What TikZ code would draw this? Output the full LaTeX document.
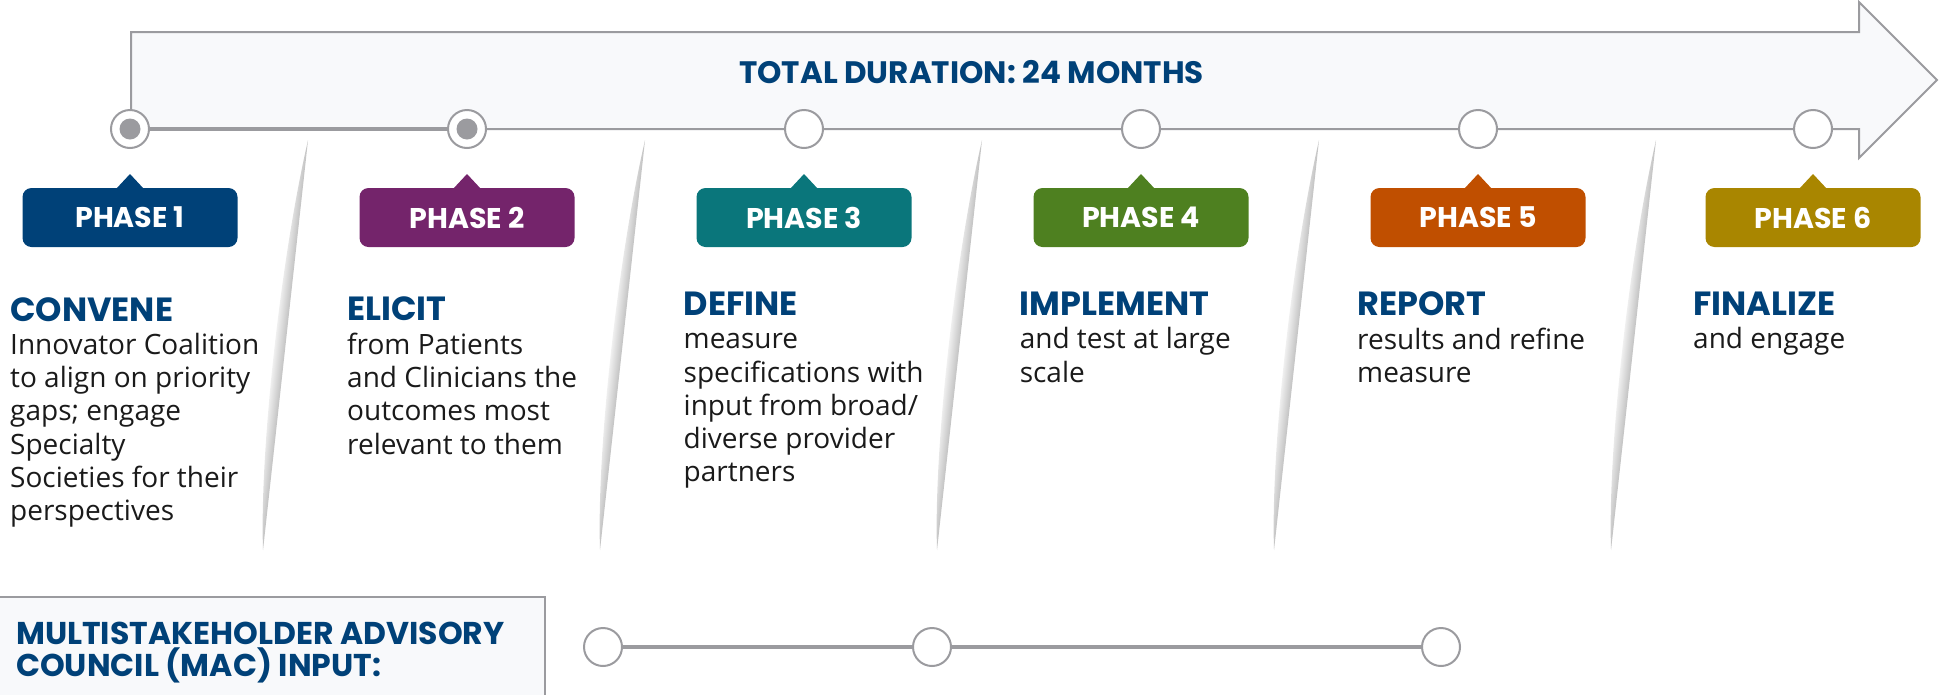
\documentclass[tikz,border=0pt]{standalone}
\usepackage{fontspec}
\usepackage{xcolor}
\usepackage{tikz}
\usetikzlibrary{positioning}
\setmainfont{Open Sans}
\newfontfamily\headfont{Poppins}

\definecolor{navy}{HTML}{004178}
\definecolor{plum}{HTML}{74246B}
\definecolor{phteal}{HTML}{0A767B}
\definecolor{leaf}{HTML}{4E8020}
\definecolor{rust}{HTML}{C04F00}
\definecolor{ochre}{HTML}{A98600}
\definecolor{linegray}{HTML}{9B9B9F}
\definecolor{paper}{HTML}{F8F9FB}
\definecolor{ink}{HTML}{1A1A1A}

\newcommand{\phasehead}[1]{{\headfont\bfseries\fontsize{33.5}{33.3}\selectfont\color{navy}#1}}

\begin{document}
\begin{tikzpicture}[x=1pt,y=-1pt,
    arrowbody/.style={fill=paper,draw=linegray,line width=2pt},
    ring/.style={shape=circle,draw=linegray,line width=2pt,fill=white,minimum size=38pt,inner sep=0pt},
    hub/.style={shape=circle,fill=linegray,minimum size=21pt,inner sep=0pt},
    tag/.style={rounded corners=9pt,minimum width=215pt,minimum height=59pt,inner sep=0pt,text=white,font={\headfont\bfseries\fontsize{28.5}{30}\selectfont}},
    phasetext/.style={anchor=north west,align=left,inner sep=0pt,text=ink,font={\fontsize{28}{33.3}\selectfont}},
    fold/.style={left color=white,right color=black!24},
    link/.style={draw=linegray,line width=2pt},
    linkbold/.style={draw=linegray,line width=4.5pt}]
    \useasboundingbox (0,0) rectangle (1942,694);

    \draw[arrowbody] (131,32) -- (1859,32) -- (1859,2) -- (1937,80) -- (1859,158) -- (1859,129) -- (131,129) -- cycle;
    \node[anchor=base,text=navy,font={\headfont\bfseries\fontsize{31}{34}\selectfont}] (dur) at (971.5,83.3) {TOTAL DURATION: 24 MONTHS};

    \begin{scope}[transform canvas={xslant=0.1098}]
    \shade[fold] (323.4,140) -- (323.4,550) .. controls (309,450) and (309,260) .. cycle;
    \shade[fold] (660.4,140) -- (660.4,550) .. controls (646,450) and (646,260) .. cycle;
    \shade[fold] (997.4,140) -- (997.4,550) .. controls (983,450) and (983,260) .. cycle;
    \shade[fold] (1334.4,140) -- (1334.4,550) .. controls (1320,450) and (1320,260) .. cycle;
    \shade[fold] (1671.4,140) -- (1671.4,550) .. controls (1657,450) and (1657,260) .. cycle;
    \end{scope}

    \node[ring] (c1) at (130,129) {};
    \node[ring] (c2) at (467,129) {};
    \node[ring] (c3) at (804,129) {};
    \node[ring] (c4) at (1141,129) {};
    \node[ring] (c5) at (1478,129) {};
    \node[ring] (c6) at (1813,129) {};
    \node[hub] (h1) at (c1) {};
    \node[hub] (h2) at (c2) {};
    \draw[linkbold] (c1) -- (c2);
    \draw[link] (c2) -- (c3);
    \draw[link] (c3) -- (c4);
    \draw[link] (c4) -- (c5);
    \draw[link] (c5) -- (c6);

    \fill[navy] (116,189) -- (130,174) -- (144,189) -- cycle;
    \fill[plum] (453,189) -- (467,174) -- (481,189) -- cycle;
    \fill[phteal] (790,189) -- (804,174) -- (818,189) -- cycle;
    \fill[leaf] (1127,189) -- (1141,174) -- (1155,189) -- cycle;
    \fill[rust] (1464,189) -- (1478,174) -- (1492,189) -- cycle;
    \fill[ochre] (1799,189) -- (1813,174) -- (1827,189) -- cycle;
    \node[tag,fill=navy] (p1) at (130,217.5) {PHASE 1};
    \node[tag,fill=plum] (p2) at (467,217.5) {PHASE 2};
    \node[tag,fill=phteal] (p3) at (804,217.5) {PHASE 3};
    \node[tag,fill=leaf] (p4) at (1141,217.5) {PHASE 4};
    \node[tag,fill=rust] (p5) at (1478,217.5) {PHASE 5};
    \node[tag,fill=ochre] (p6) at (1813,217.5) {PHASE 6};

    \node[phasetext] (s1) at (10,297) {\phasehead{CONVENE}\\Innovator Coalition\\to align on priority\\gaps; engage\\Specialty\\Societies for their\\perspectives};
    \node[phasetext] (s2) at (347,297) {\phasehead{ELICIT}\\from Patients\\and Clinicians the\\outcomes most\\relevant to them};
    \node[phasetext] (s3) at (683.5,291.7) {\phasehead{DEFINE}\\measure\\specifications with\\input from broad/\\diverse provider\\partners};
    \node[phasetext] (s4) at (1019.6,291.7) {\phasehead{IMPLEMENT}\\and test at large\\scale};
    \node[phasetext] (s5) at (1357,291.7) {\phasehead{REPORT}\\results and refine\\measure};
    \node[phasetext] (s6) at (1693,291.7) {\phasehead{FINALIZE}\\and engage};

    \draw[arrowbody] (-3,597) rectangle (545,710);
    \node[anchor=north west,align=left,inner sep=0pt,text=navy,font={\headfont\bfseries\fontsize{31.5}{32.4}\selectfont}] (mac) at (16,621.7) {MULTISTAKEHOLDER ADVISORY\\COUNCIL (MAC) INPUT:};
    \node[ring] (m1) at (603,647) {};
    \node[ring] (m2) at (932,647) {};
    \node[ring] (m3) at (1441,647) {};
    \draw[linkbold] (m1) -- (m2);
    \draw[linkbold] (m2) -- (m3);
\end{tikzpicture}
\end{document}
